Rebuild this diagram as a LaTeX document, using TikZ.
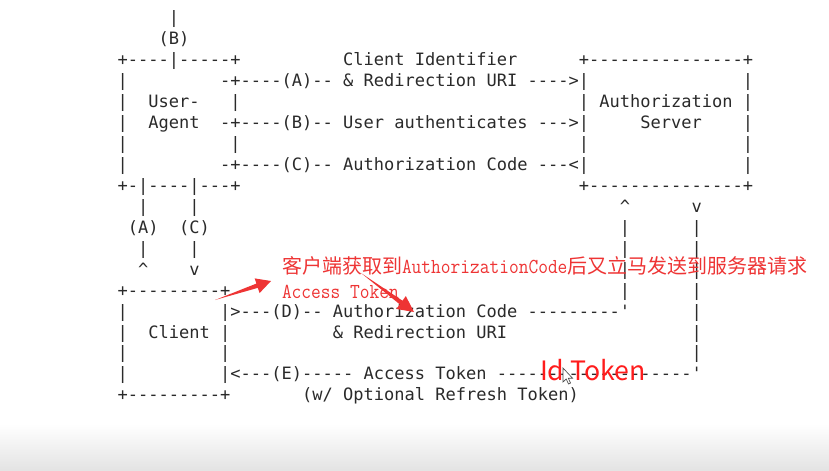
\documentclass[tikz,border=0pt]{standalone}
\usepackage{fontspec}
\usepackage{graphicx}
\setmonofont{DejaVu Sans Mono}
\newfontfamily\cjk{Noto Sans CJK SC}
\usetikzlibrary{calc}
\definecolor{asciitext}{HTML}{2A2A2A}
\definecolor{annored}{RGB}{238,52,52}
\definecolor{idred}{RGB}{255,28,28}
\newcommand{\latmono}[1]{\scalebox{0.886}[1]{\fontfamily{lmtt}\fontsize{16pt}{18pt}\selectfont #1}}
\tikzset{
  asc/.style={anchor=base west, inner sep=0pt, outer sep=0pt,
    font=\ttfamily\fontsize{12.77pt}{14pt}\selectfont, text=asciitext},
  note/.style={anchor=base west, inner sep=0pt, outer sep=0pt, text=annored},
  redarrow/.style={fill=annored, draw=none},
}
\newcommand{\asciiseg}[4]{\node[asc] (#1) at ({66.3+10.25*#2},{23.9+20.94*#3}) {#4};}
\begin{document}
\begin{tikzpicture}[x=0.75pt,y=-0.75pt]
\useasboundingbox (0,0) rectangle (829,471);
\fill[white] (0,0) rectangle (829,471);
\shade[top color=white, bottom color=black!11] (0,424) rectangle (829,471);
% ---- ASCII diagram ----
\asciiseg{r0a}{10}{0}{|}
\asciiseg{r1a}{9}{1}{(B)}
\asciiseg{r2a}{5}{2}{+----|-----+}
\asciiseg{r2b}{27}{2}{Client Identifier}
\asciiseg{r2c}{50}{2}{+---------------+}
\asciiseg{r3a}{5}{3}{|}
\asciiseg{r3b}{15}{3}{-+----(A)-- \& Redirection URI ---->|}
\asciiseg{r3c}{66}{3}{|}
\asciiseg{r4a}{5}{4}{|}
\asciiseg{r4b}{8}{4}{User-}
\asciiseg{r4c}{16}{4}{|}
\asciiseg{r4d}{50}{4}{| Authorization |}
\asciiseg{r5a}{5}{5}{|}
\asciiseg{r5b}{8}{5}{Agent}
\asciiseg{r5c}{15}{5}{-+----(B)-- User authenticates --->|}
\asciiseg{r5d}{56}{5}{Server}
\asciiseg{r5e}{66}{5}{|}
\asciiseg{r6a}{5}{6}{|}
\asciiseg{r6b}{16}{6}{|}
\asciiseg{r6c}{50}{6}{|}
\asciiseg{r6d}{66}{6}{|}
\asciiseg{r7a}{5}{7}{|}
\asciiseg{r7b}{15}{7}{-+----(C)-- Authorization Code ---<|}
\asciiseg{r7c}{66}{7}{|}
\asciiseg{r8a}{5}{8}{+-|----|---+}
\asciiseg{r8b}{50}{8}{+---------------+}
\asciiseg{r9a}{7}{9}{|}
\asciiseg{r9b}{12}{9}{|}
\asciiseg{r9c}{54}{9}{\string^}
\asciiseg{r9d}{61}{9}{v}
\asciiseg{r10a}{6}{10}{(A)}
\asciiseg{r10b}{11}{10}{(C)}
\asciiseg{r10c}{54}{10}{|}
\asciiseg{r10d}{61}{10}{|}
\asciiseg{r11a}{7}{11}{|}
\asciiseg{r11b}{12}{11}{|}
\asciiseg{r11c}{54}{11}{|}
\asciiseg{r11d}{61}{11}{|}
\asciiseg{r12a}{7}{12}{\string^}
\asciiseg{r12b}{12}{12}{v}
\asciiseg{r12c}{54}{12}{|}
\asciiseg{r12d}{61}{12}{|}
\asciiseg{r13a}{5}{13}{+---------+}
\asciiseg{r13b}{54}{13}{|}
\asciiseg{r13c}{61}{13}{|}
\asciiseg{r14a}{5}{14}{|}
\asciiseg{r14b}{15}{14}{|>---(D)-- Authorization Code ---------'}
\asciiseg{r14c}{61}{14}{|}
\asciiseg{r15a}{5}{15}{|}
\asciiseg{r15b}{8}{15}{Client}
\asciiseg{r15c}{15}{15}{|}
\asciiseg{r15d}{26}{15}{\& Redirection URI}
\asciiseg{r15e}{61}{15}{|}
\asciiseg{r16a}{5}{16}{|}
\asciiseg{r16b}{15}{16}{|}
\asciiseg{r16c}{61}{16}{|}
\asciiseg{r17a}{5}{17}{|}
\asciiseg{r17b}{15}{17}{|<---(E)----- Access Token -------------------'}
\asciiseg{r18a}{5}{18}{+---------+}
\asciiseg{r18b}{23}{18}{(w/ Optional Refresh Token)}
% ---- red annotations ----
\node[note, font=\cjk\fontsize{15pt}{18pt}\selectfont] (cn1) at (282,273)
  {客户端获取到\latmono{AuthorizationCode}后又立马发送到服务器请求};
\node[note] (cn2) at (282,298) {\latmono{Access Token}};
\coordinate (a1t) at (215,300);
\coordinate (a1h) at (271,281);
\coordinate (a1n) at ($(a1h)!11pt!(a1t)$);
\fill[redarrow] (a1t) -- ($(a1n)!1.7pt!90:(a1h)$) -- ($(a1n)!5.8pt!90:(a1h)$)
  -- (a1h) -- ($(a1n)!5.8pt!-90:(a1h)$) -- ($(a1n)!1.7pt!-90:(a1h)$) -- cycle;
\coordinate (a2t) at (361,273);
\coordinate (a2h) at (414,312);
\coordinate (a2n) at ($(a2h)!12pt!(a2t)$);
\fill[redarrow] (a2t) -- ($(a2n)!1.7pt!90:(a2h)$) -- ($(a2n)!6pt!90:(a2h)$)
  -- (a2h) -- ($(a2n)!6pt!-90:(a2h)$) -- ($(a2n)!1.7pt!-90:(a2h)$) -- cycle;
\node[note, text=idred, font=\cjk\fontsize{20pt}{24pt}\selectfont] (idt) at (540,380) {Id Token};
% ---- mouse cursor ----
\filldraw[fill=white, draw=black!70, line width=0.5pt, shift={(563,368)}]
  (0,0) -- (0,14) -- (3.2,11) -- (5.5,16) -- (7.5,15) -- (5.3,10.2) -- (9.5,10.2) -- cycle;
\end{tikzpicture}
\end{document}
